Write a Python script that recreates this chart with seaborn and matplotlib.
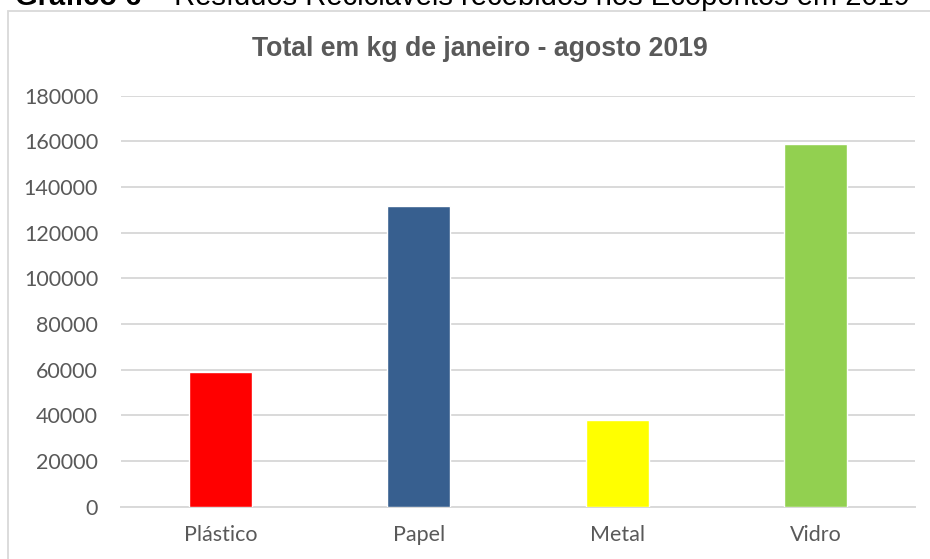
import matplotlib
matplotlib.use("Agg")
import matplotlib.pyplot as plt
from matplotlib import font_manager
from matplotlib.patches import Rectangle
import seaborn as sns
import pandas as pd

# Recyclable waste received at the drop-off points, Jan-Aug 2019 (kg)
materials = ["Plástico", "Papel", "Metal", "Vidro"]
totals_kg = [59000, 131700, 38000, 158800]
bar_colors = ["#FF0000", "#375F8F", "#FFFF00", "#92D050"]
y_ticks = [0, 20000, 40000, 60000, 80000, 100000, 120000, 140000, 160000, 180000]

heading_bold = "Gráfico 6 –"
heading_rest = " Resíduos Recicláveis recebidos nos Ecopontos em 2019"
chart_title = "Total em kg de janeiro - agosto 2019"

sns.set_theme(style="white")
installed = {f.name for f in font_manager.fontManager.ttflist}
label_font = "Lato" if "Lato" in installed else "DejaVu Sans"
title_font = "Liberation Sans Narrow" if "Liberation Sans Narrow" in installed else "Liberation Sans"
plt.rcParams["font.family"] = [label_font, "DejaVu Sans"]

W, H = 930, 559
fig = plt.figure(figsize=(W / 100, H / 100), dpi=100)
fig.patch.set_facecolor("white")

# chart frame (runs off the right and bottom edges)
fig.patches.append(Rectangle((8 / W, -0.1), 1.2, 1 - 11.5 / H + 0.1,
                             transform=fig.transFigure, fill=False,
                             edgecolor="#D9D9D9", linewidth=1.3))

left, right, top, bottom = 121, 915, 95.7, 506.7
ax = fig.add_axes([left / W, 1 - bottom / H, (right - left) / W, (bottom - top) / H])

df = pd.DataFrame({"material": materials, "kg": totals_kg})
sns.barplot(data=df, x="material", y="kg", hue="material",
            palette=dict(zip(materials, bar_colors)), width=0.317,
            saturation=1, legend=False, ax=ax, zorder=3)

ax.set_ylim(0, 180000)
ax.set_xlim(-0.5, len(materials) - 0.5)
ax.set_yticks(y_ticks)
ax.set_yticklabels([str(v) for v in y_ticks])
ax.set_xlabel("")
ax.set_ylabel("")
ax.yaxis.grid(True, color="#D9D9D9", linewidth=1.4, zorder=0)
ax.xaxis.grid(False)
ax.set_axisbelow(True)
for side in ["left", "right", "top"]:
    ax.spines[side].set_visible(False)
ax.spines["bottom"].set_color("#D9D9D9")
ax.spines["bottom"].set_linewidth(1.4)
ax.tick_params(axis="both", length=0, labelsize=15.5, colors="#595959")
ax.tick_params(axis="y", pad=16.5)
ax.tick_params(axis="x", pad=13)

fig.canvas.draw()
renderer = fig.canvas.get_renderer()


def fit_size(text_obj, target_px, base):
    w = text_obj.get_window_extent(renderer).width
    return base * target_px / w


# chart title, bold grey
t = fig.text(480 / W, 1 - 49 / H, chart_title, ha="center", va="center",
             fontsize=16, fontweight="bold", color="#595959",
             family=[title_font, "DejaVu Sans"])
t.set_fontsize(fit_size(t, 457, 16))

# document heading above the chart, partly cut off by the top edge
hb = fig.text(15 / W, 1 - 5 / H, heading_bold, ha="left", va="baseline",
              fontsize=20, fontweight="bold", color="black",
              family=["Liberation Sans", "DejaVu Sans"])
hr = fig.text(0, 1 - 5 / H, heading_rest, ha="left", va="baseline",
              fontsize=20, color="black", family=["Liberation Sans", "DejaVu Sans"])
total = hb.get_window_extent(renderer).width + hr.get_window_extent(renderer).width
size = 20 * 892 / total
hb.set_fontsize(size)
hr.set_fontsize(size)
fig.canvas.draw()
hb_end = hb.get_window_extent(renderer).x1
hr.set_x(hb_end / W)

fig.savefig("out.png", dpi=100, facecolor="white")
